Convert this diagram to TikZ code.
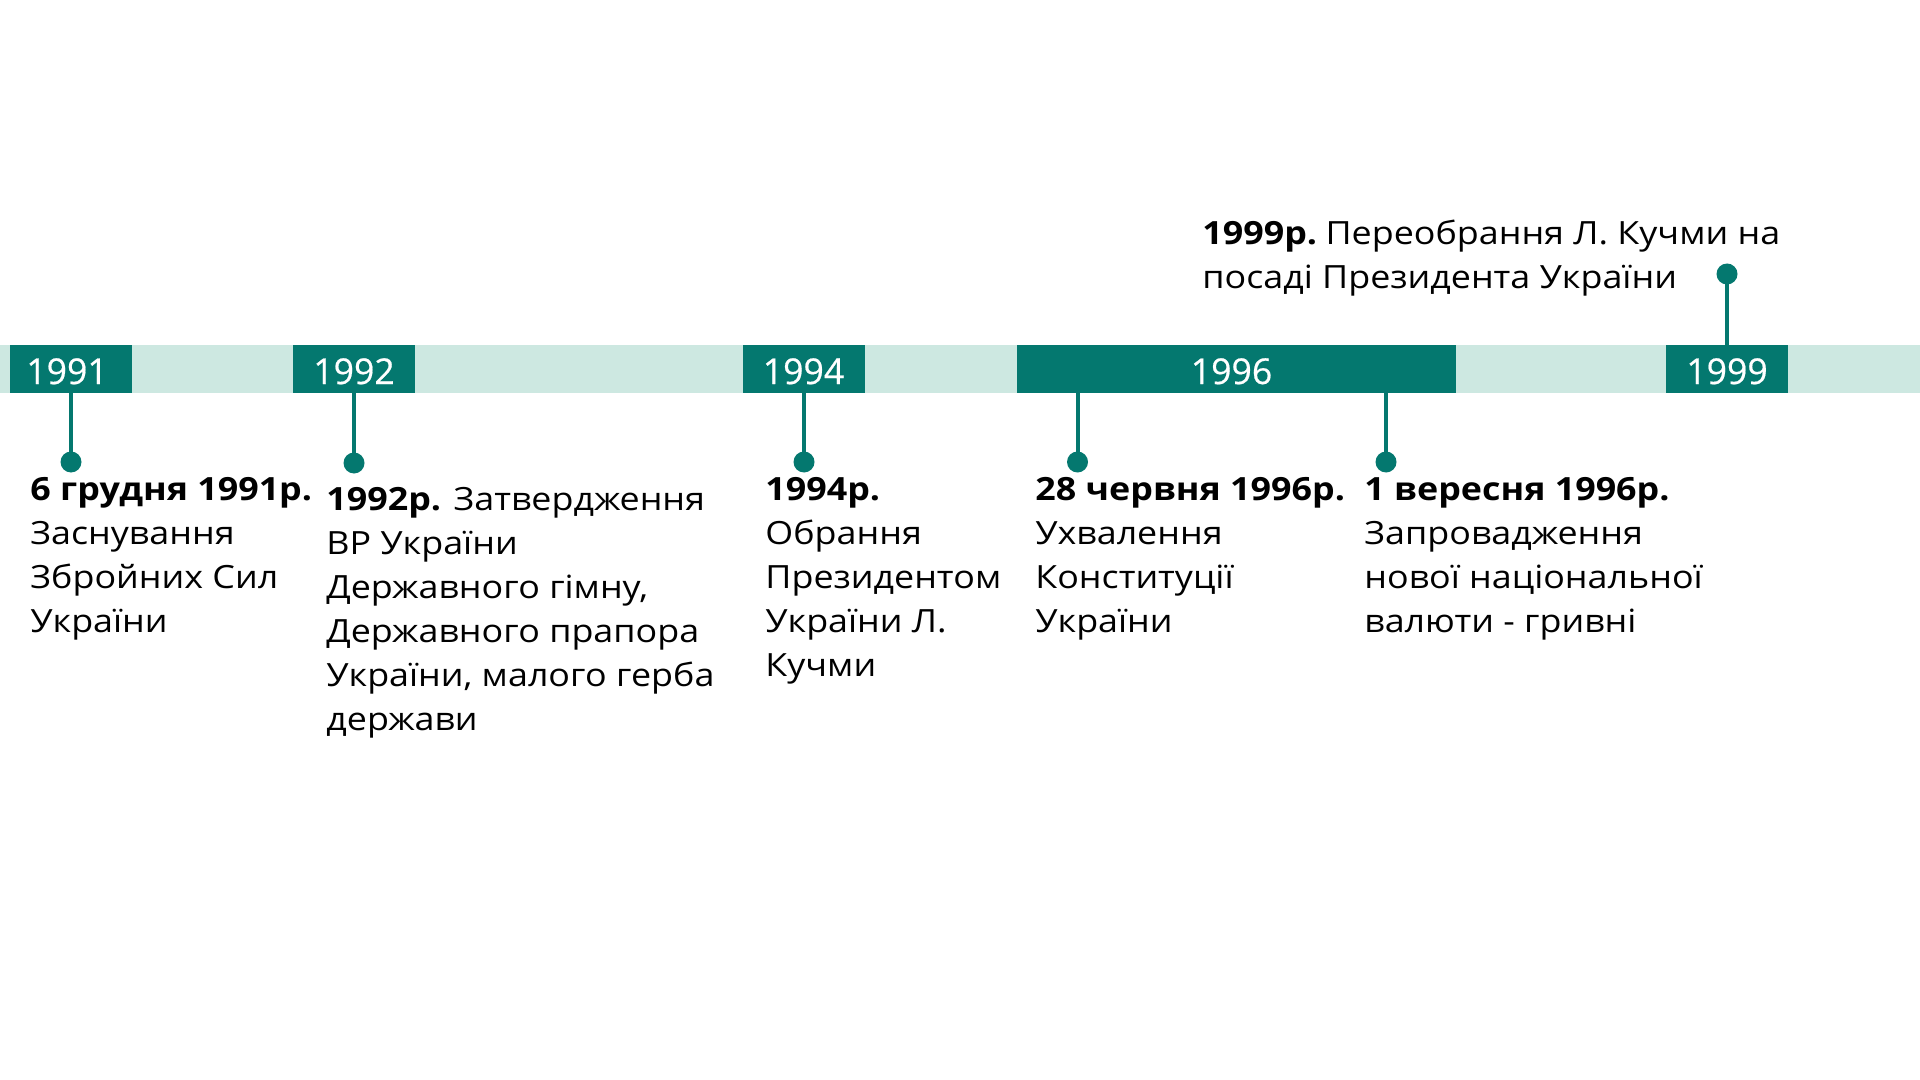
\documentclass[tikz,border=0pt]{standalone}
\usepackage{fontspec}
\setmainfont{Open Sans}[FakeStretch=1.12]
\newfontfamily\yearfont{Open Sans}[FakeBold=0.5]
\definecolor{tealdk}{HTML}{04786F}
\definecolor{teallt}{HTML}{CDE8E1}
\begin{document}
\begin{tikzpicture}[x=0.5pt,y=-0.5pt,
  yearbox/.style={fill=tealdk, text=white, minimum height=24pt, inner sep=0pt,
    text height=15pt, text depth=0pt,
    font=\yearfont\fontsize{17.8}{20}\selectfont},
  dotnode/.style={circle, fill=tealdk, minimum size=10.5pt, inner sep=0pt},
  stem/.style={draw=tealdk, line width=2pt},
  note/.style={anchor=base west, inner sep=0pt, font=\fontsize{16}{22}\selectfont}
]
\useasboundingbox (0,0) rectangle (1920,1080);
\fill[teallt] (0,345) rectangle (1920,393);
% year boxes
\node[yearbox, minimum width=61pt] (y1991) at (71,369) {\hspace*{-4pt}1991};
\node[yearbox, minimum width=61pt] (y1992) at (354,369) {1992};
\node[yearbox, minimum width=61pt] (y1994) at (803.5,369) {1994};
\node[yearbox, minimum width=219.25pt] (y1996) at (1236.5,369) {\hspace*{-5pt}1996};
\node[yearbox, minimum width=61pt] (y1999) at (1727,369) {1999};
% dots
\node[dotnode] (d1991) at (71,462) {};
\node[dotnode] (d1992) at (354,463) {};
\node[dotnode] (d1994) at (804,462) {};
\node[dotnode] (d1996a) at (1077.5,462) {};
\node[dotnode] (d1996b) at (1386,462) {};
\node[dotnode] (d1999) at (1727,274) {};
% stems
\draw[stem] (y1991.south) -- (d1991.center);
\draw[stem] (y1992.south) -- (d1992.center);
\draw[stem] (y1994.south -| d1994) -- (d1994.center);
\draw[stem] (y1996.south -| d1996a) -- (d1996a.center);
\draw[stem] (y1996.south -| d1996b) -- (d1996b.center);
\draw[stem] (y1999.north) -- (d1999.center);
% notes
\node[note] (t1991) at (30,500) {\begin{tabular}[t]{@{}l@{}}\textbf{6 грудня 1991р.}\\Заснування\\Збройних Сил\\України\end{tabular}};
\node[note] (t1992) at (326,510) {\begin{tabular}[t]{@{}l@{}}\textbf{1992р.} Затвердження\\ВР України\\Державного гімну,\\Державного прапора\\України, малого герба\\держави\end{tabular}};
\node[note] (t1994) at (765,500) {\begin{tabular}[t]{@{}l@{}}\textbf{1994р.}\\Обрання\\Президентом\\України Л.\\Кучми\end{tabular}};
\node[note] (t1996a) at (1035,500) {\begin{tabular}[t]{@{}l@{}}\textbf{28 червня 1996р.}\\Ухвалення\\Конституції\\України\end{tabular}};
\node[note] (t1996b) at (1364,500) {\begin{tabular}[t]{@{}l@{}}\textbf{1 вересня 1996р.}\\Запровадження\\нової національної\\валюти - гривні\end{tabular}};
\node[note] (t1999) at (1202,245) {\begin{tabular}[t]{@{}l@{}}\textbf{1999р.}\hspace{-2pt} Переобрання Л. Кучми на\\посаді Президента України\end{tabular}};
\end{tikzpicture}
\end{document}
